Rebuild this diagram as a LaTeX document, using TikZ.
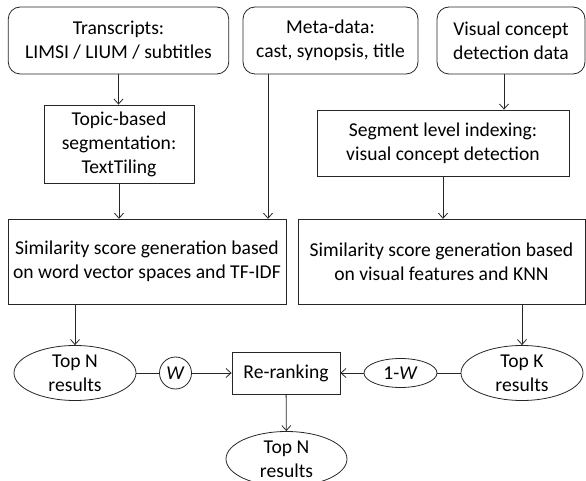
\documentclass[tikz,border=0pt]{standalone}
\usepackage{fontspec}
\setmainfont{Carlito}
\usetikzlibrary{arrows.meta,shapes.geometric}

\begin{document}
\begin{tikzpicture}[x=1pt,y=-1pt,>={Straight Barb[length=5pt,width=9pt]},
  font=\fontsize{19.6}{24}\selectfont,line width=0.8pt,draw=black!85,
  srcbox/.style={draw,rounded corners=12pt,align=center,inner sep=0pt},
  procbox/.style={draw,align=center,inner sep=0pt},
  resnode/.style={draw,ellipse,align=center,inner xsep=0pt,inner ysep=-8pt}]
\useasboundingbox (0,0) rectangle (586,481);
\node[srcbox,minimum width=220.5,minimum height=67] (trans) at (118.5,40.5) {Transcripts:\\LIMSI / LIUM / subtitles};
\node[srcbox,minimum width=175,minimum height=67] (meta) at (330.5,40.5) {Meta-data:\\cast, synopsis, title};
\node[srcbox,minimum width=148,minimum height=67] (visual) at (511,40.5) {Visual concept\\detection data};
\node[procbox,minimum width=150,minimum height=78] (seg) at (119,144) {Topic-based\\segmentation:\\TextTiling};
\node[procbox,minimum width=252,minimum height=66] (segvis) at (443,143) {Segment level indexing:\\visual concept detection};
\node[procbox,minimum width=278,minimum height=85] (simtext) at (147,261.7) {Similarity score generation based\\on word vector spaces and TF-IDF};
\node[procbox,minimum width=287,minimum height=85] (simvis) at (441.5,261.7) {Similarity score generation based\\on visual features and KNN};
\node[resnode,minimum width=122,minimum height=55] (topn) at (75,373) {Top N\\results};
\node[draw,circle,inner sep=0pt,minimum size=32] (w) at (175.5,373) {\textit{W}};
\node[procbox,minimum width=108,minimum height=42] (rerank) at (286,373) {Re-ranking};
\node[draw,ellipse,inner sep=0pt,minimum width=73,minimum height=29] (onew) at (400.5,373) {1-\textit{W}};
\node[resnode,minimum width=122,minimum height=55] (topk) at (522,373) {Top K\\results};
\node[resnode,minimum width=121,minimum height=55] (final) at (286.5,459) {Top N\\results};
\coordinate (metax) at (268,0);
\coordinate (visx) at (504,0);
\draw[->] (trans.south) -- (trans.south |- seg.north);
\draw[->] (meta.south -| metax) -- (simtext.north -| metax);
\draw[->] (visual.south -| visx) -- (segvis.north -| visx);
\draw[->] (seg.south) -- (seg.south |- simtext.north);
\draw[->] (segvis.south) -- (segvis.south |- simvis.north);
\draw[->] (topn.north |- simtext.south) -- (topn.north);
\draw[->] (topk.north |- simvis.south) -- (topk.north);
\draw (topn) -- (w);
\draw[->] (w) -- (rerank);
\draw (topk) -- (onew);
\draw[->] (onew) -- (rerank);
\draw[->] (rerank) -- (final);
\end{tikzpicture}
\end{document}
